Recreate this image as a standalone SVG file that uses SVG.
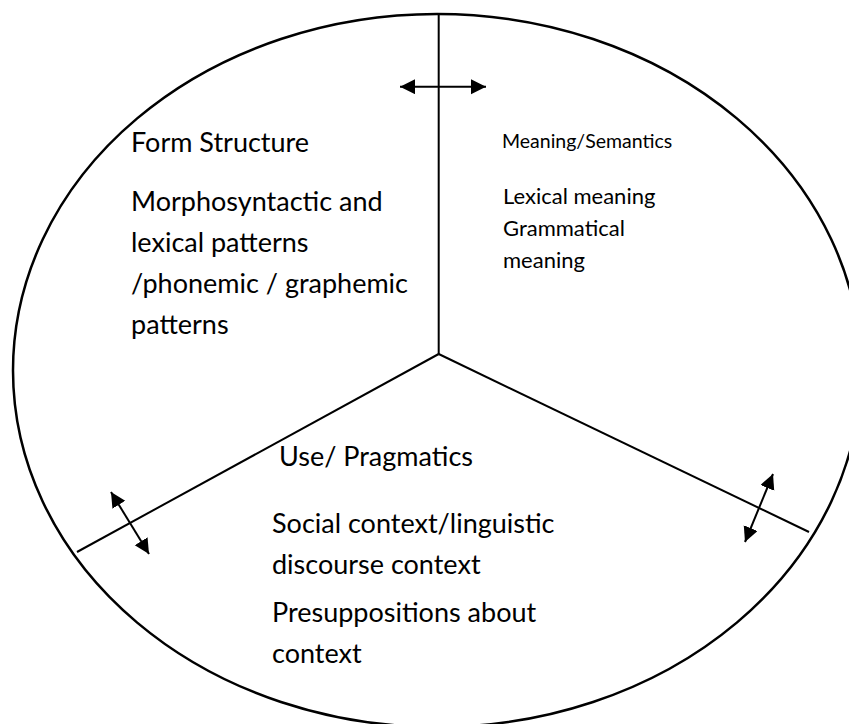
<svg xmlns="http://www.w3.org/2000/svg" width="849" height="724" viewBox="0 0 849 724">
<style>
.outline{fill:none;stroke:#000;stroke-width:2.5}
.div{fill:none;stroke:#000;stroke-width:2}
.arr{fill:none;stroke:#000;stroke-width:2;marker-start:url(#head);marker-end:url(#head)}
text{font-family:Lato,"Liberation Sans",sans-serif;fill:#000}
.big{font-size:27px}
.mid{font-size:22px}
.small{font-size:19.5px}
</style>
<defs>
<marker id="head" markerUnits="userSpaceOnUse" markerWidth="16" markerHeight="16" refX="15" refY="7.5" orient="auto-start-reverse">
<path d="M0,0 L15,7.5 L0,15 z" fill="#000"/>
</marker>
</defs>
<rect width="849" height="724" fill="#fff"/>
<g id="circle">
<ellipse class="outline" cx="437" cy="370.5" rx="424" ry="356.5"/>
</g>
<g id="connectors">
<line class="div" x1="438.7" y1="14" x2="438.7" y2="354"/>
<line class="div" x1="438.7" y1="354" x2="77" y2="552"/>
<line class="div" x1="438.7" y1="354" x2="809" y2="532"/>
<line class="arr" x1="400" y1="86.7" x2="486" y2="86.7"/>
<line class="arr" x1="111" y1="492" x2="149" y2="554"/>
<line class="arr" x1="773" y1="474" x2="745" y2="542"/>
</g>
<g id="form">
<text class="big" x="131" y="152">Form Structure</text>
<text class="big" x="131" y="211">Morphosyntactic and</text>
<text class="big" x="131" y="252">lexical patterns</text>
<text class="big" x="131" y="293">/phonemic / graphemic</text>
<text class="big" x="131" y="334">patterns</text>
</g>
<g id="meaning">
<text class="small" x="502" y="148">Meaning/Semantics</text>
<text class="mid" x="503" y="204">Lexical meaning</text>
<text class="mid" x="503" y="236">Grammatical</text>
<text class="mid" x="503" y="268">meaning</text>
</g>
<g id="use">
<text class="big" x="279" y="466">Use/ Pragmatics</text>
<text class="big" x="272" y="533">Social context/linguistic</text>
<text class="big" x="272" y="574">discourse context</text>
<text class="big" x="272" y="622">Presuppositions about</text>
<text class="big" x="272" y="663">context</text>
</g>
</svg>
